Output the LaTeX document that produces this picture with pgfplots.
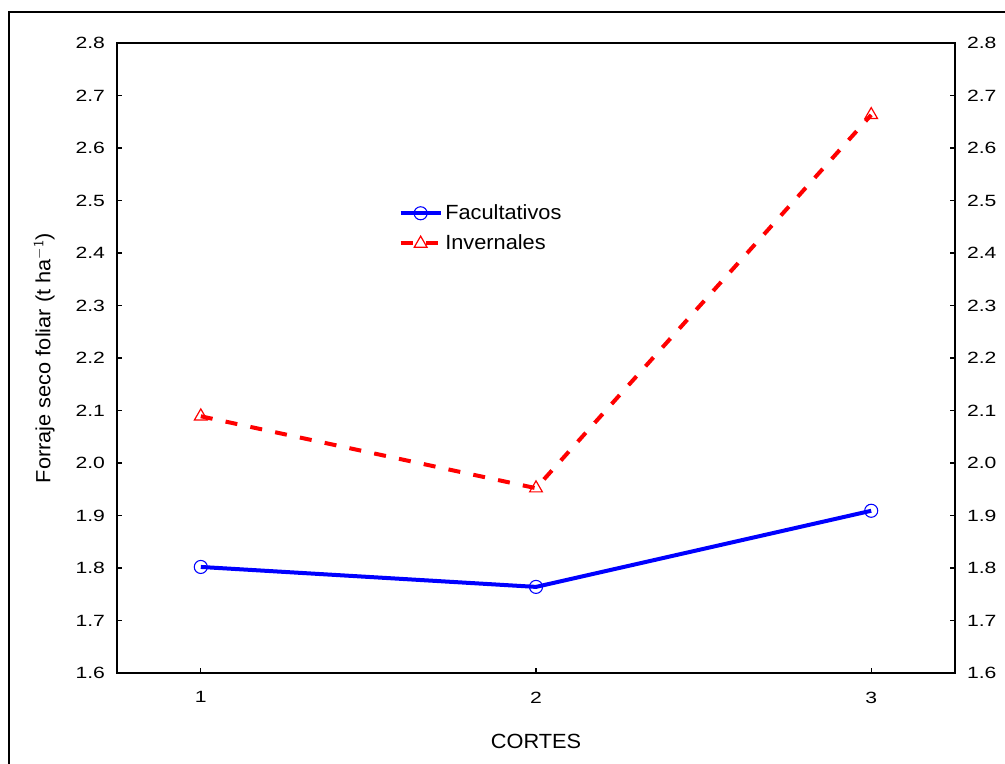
\documentclass[border=0pt]{standalone}
\usepackage{pgfplots}
\pgfplotsset{compat=1.18}
\usepackage{fontspec}
\setmainfont{Liberation Sans}
\newfontfamily\tickfont[FakeStretch=1.3]{Liberation Sans}
\newfontfamily\labfont[FakeStretch=1.06]{Liberation Sans}
\begin{document}
\begin{tikzpicture}
\useasboundingbox (0pt,0pt) rectangle (753.75pt,572.25pt);
\begin{scope}
\clip (0pt,0pt) rectangle (753.75pt,572.25pt);
\draw[line width=1.2pt] (6.75pt,-10pt) -- (6.75pt,563.25pt) -- (760pt,563.25pt);
\end{scope}
\pgfplotsset{
  myaxis/.style={
    at={(87.75pt,67.5pt)}, anchor=south west,
    scale only axis, width=628.5pt, height=472.5pt,
    xmin=0.75, xmax=3.25, ymin=1.6, ymax=2.8,
    ytick={1.6,1.7,...,2.81},
    tick align=inside, major tick length=4pt,
    axis line style={line width=1.2pt},
    tick style={line width=1pt,black},
    tick label style={font=\tickfont\fontsize{12.2}{14}\selectfont},
    /pgf/number format/fixed, /pgf/number format/fixed zerofill,
    /pgf/number format/precision=1, /pgf/number format/assume math mode=true,
  },
}
\begin{axis}[myaxis,
  xtick={1,2,3}, xticklabels={1,2,3},
  ytick pos=left,
  xtick pos=bottom,
  yticklabel style={xshift=-5.5pt},
  xticklabel style={yshift=-10.5pt},
  xlabel={CORTES},
  xlabel style={font=\labfont\fontsize{15.4}{18}\selectfont, at={(axis description cs:0.5,0)}, anchor=center, yshift=-51pt},
  ylabel={Forraje seco foliar (t ha$^{\mathsf{-1}}$)},
  ylabel style={font=\labfont\fontsize{15.4}{18}\selectfont, at={(axis description cs:-0.087,0.5)}, anchor=center},
  legend style={at={(0.331,0.752)}, anchor=north west, draw=none, fill=none,
    font=\labfont\fontsize{15.4}{18}\selectfont, row sep=6pt,
    /tikz/every even column/.append style={column sep=4pt}},
  legend image code/.code={\draw[mark repeat=2,mark phase=2,#1] plot coordinates {(0pt,0pt) (15pt,0pt) (30pt,0pt)};},
  legend cell align=left,
]
\addplot[blue, line width=3pt, mark=o, mark size=4.9pt,
  mark options={solid, fill=white, line width=0.8pt}]
  coordinates {(1,1.802) (2,1.764) (3,1.909)};
\addlegendentry{Facultativos}
\addplot[red, line width=3pt, dash pattern=on 9pt off 10pt, mark=triangle, mark size=5.5pt,
  mark options={solid, fill=white, line width=0.9pt}]
  coordinates {(1,2.089) (2,1.952) (3,2.663)};
\addlegendentry{Invernales}
\end{axis}
\begin{axis}[myaxis,
  axis x line=none,
  axis y line*=right,
  ytick pos=right,
  yticklabel pos=right,
  yticklabel style={xshift=5.5pt},
]
\end{axis}
\end{tikzpicture}
\end{document}
